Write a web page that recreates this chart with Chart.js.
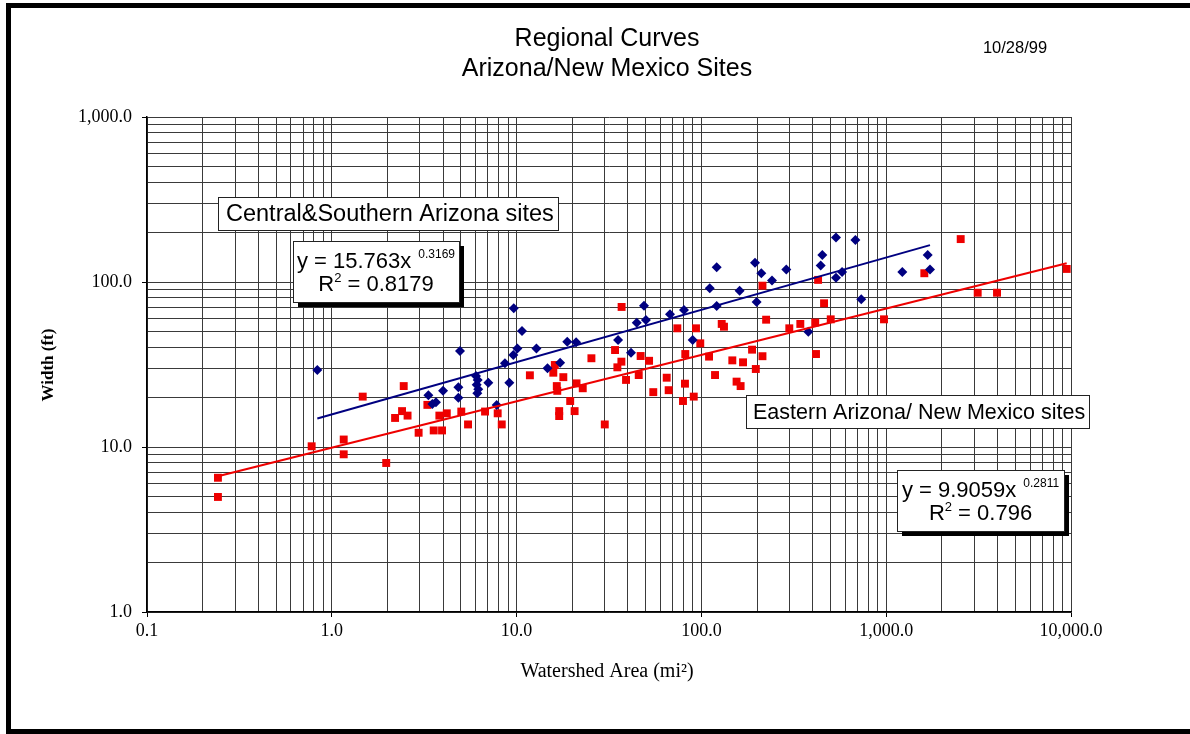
<!DOCTYPE html>
<html>
<head>
<meta charset="utf-8">
<title>Regional Curves</title>
<script src="https://cdn.jsdelivr.net/npm/chart.js@4.4.1/dist/chart.umd.min.js"></script>
<style>
    body { margin: 0; background: #fff; }
    #wrap { width: 1190px; height: 734px; }
</style>
</head>
<body>
<div id="wrap"><canvas id="myChart" width="1190" height="734"></canvas></div>
<script>
// Central & Southern Arizona sites: watershed area (sq mi) vs channel width (ft)
var centralArea = [0.835, 4.94, 3.33, 3.66, 3.5, 4.0, 4.84, 4.84, 6.03, 6.16, 6.08, 6.2, 6.13, 7.03,
    7.8, 8.65, 9.13, 9.6, 10.1, 12.8, 9.65, 10.7, 14.7, 17.2, 18.8, 21.0, 35.4, 41.6, 44.7, 48.9,
    50.1, 67.6, 80.5, 89.7, 111, 121, 121, 161, 195, 211, 199, 241, 288, 379, 451, 442, 535, 535,
    577, 681, 733, 1222, 1677, 1726];
var centralWidth = [29.3, 38.2, 20.6, 18.7, 18.2, 21.9, 23.0, 19.9, 26.9, 25.5, 23.8, 22.4, 21.2, 24.5,
    18.0, 32.2, 24.5, 36.1, 39.6, 39.6, 69.3, 50.5, 30.0, 32.4, 43.5, 43.1, 44.5, 37.3, 56.7, 71.8,
    58.9, 63.7, 67.7, 44.5, 91.6, 71.5, 122.8, 88.6, 131, 113, 75.6, 102, 119, 50.0, 146, 126, 186, 106,
    115, 180, 78.6, 115, 146, 119];

// Eastern Arizona / New Mexico sites
var easternArea = [0.242, 0.242, 0.778, 1.16, 1.16, 1.47, 1.97, 2.45, 2.2, 2.4, 2.57, 2.95, 3.29, 3.56,
    3.95, 3.82, 4.19, 5.02, 5.46, 6.75, 7.9, 8.31, 11.8, 16.1, 15.8, 17.9, 16.5, 16.6, 17.0, 17.0,
    19.5, 20.6, 21.1, 22.8, 25.4, 30.0, 34.1, 36.9, 35.1, 39.1, 37.0, 45.8, 46.9, 52.1, 54.9, 64.9,
    66.5, 74.1, 79.5, 81.5, 81.8, 90.9, 93.5, 98.6, 110, 118.5, 128.8, 132.5, 147, 155, 163, 168,
    188, 197, 214, 214, 224, 299, 343, 413, 417, 428, 461, 501, 973, 1608, 2530, 3127, 3978, 9478];
var easternWidth = [6.51, 4.98, 10.1, 11.1, 9.03, 20.2, 8.0, 23.4, 15.0, 16.5, 15.5, 12.2, 18.0, 12.6,
    12.6, 15.5, 16.0, 16.4, 13.7, 16.4, 16.0, 13.7, 27.2, 31.4, 28.2, 26.5, 23.4, 21.9, 16.5, 15.4,
    19.0, 16.5, 24.3, 22.7, 34.5, 13.7, 38.7, 32.9, 30.4, 25.5, 70.6, 27.3, 35.6, 33.3, 21.5, 26.3,
    22.1, 52.4, 19.0, 24.2, 36.6, 20.2, 52.4, 42.5, 35.3, 27.3, 55.7, 53.6, 33.5, 24.9, 23.4, 32.6,
    38.9, 29.7, 35.5, 95.0, 59.1, 52.4, 55.7, 56.8, 36.6, 103, 74.3, 59.4, 59.4, 113, 182, 86.1, 86.1, 120];

// power trendlines y = a * x^b, with their R squared
var centralFit = [15.763, 0.3169];
var centralR2 = '0.8179';
var easternFit = [9.9059, 0.2811];
var easternR2 = '0.796';

// labelled decades on each axis
var xTicks = [0.1, 1, 10, 100, 1000, 10000];
var yTicks = [1, 10, 100, 1000];

var SANS = '"Liberation Sans", Arial, sans-serif';
var SERIF = '"Liberation Serif", "Times New Roman", serif';
var NAVY = '#000080';
var RED = '#ee0000';

function toPoints(xs, ys) {
    return xs.map(function (x, i) { return { x: x, y: ys[i] }; });
}

// straight segment of the fit across the span of the data
function fitLine(fit, xs) {
    var lo = Math.min.apply(null, xs);
    var hi = Math.max.apply(null, xs);
    return [lo, hi].map(function (x) { return { x: x, y: fit[0] * Math.pow(x, fit[1]) }; });
}

// 1..9 x 10^n between the first and last decade
function gridValues(decades) {
    var vals = [];
    for (var i = 0; i < decades.length - 1; i++) {
        for (var k = 1; k < 10; k++) vals.push(+(decades[i] * k).toPrecision(6));
    }
    vals.push(decades[decades.length - 1]);
    return vals.map(function (v) { return { value: v }; });
}

function isDecade(v) {
    var l = Math.log10(v);
    return Math.abs(l - Math.round(l)) < 1e-9;
}

function tickLabel(value) {
    if (!isDecade(value)) return '';
    return Number(value).toLocaleString('en-US', { minimumFractionDigits: 1, maximumFractionDigits: 1 });
}

function majorTickColor(ctx) {
    return ctx.tick && isDecade(ctx.tick.value) ? '#000' : 'rgba(0,0,0,0)';
}

function box(ctx, x, y, w, h, shadow) {
    if (shadow) {
        ctx.fillStyle = '#000';
        ctx.fillRect(x + 5, y + 5, w, h);
    }
    ctx.fillStyle = '#fff';
    ctx.fillRect(x, y, w, h);
    ctx.strokeStyle = '#222';
    ctx.lineWidth = 1;
    ctx.strokeRect(x + 0.5, y + 0.5, w, h);
}

// "y = a x^b" over "R^2 = r", both lines centred in the box
function equationBox(ctx, x, y, w, h, fit, r2) {
    box(ctx, x, y, w, h, true);
    var cx = x + w / 2;
    var main = '22px ' + SANS;
    var sup = '12px ' + SANS;
    var t1 = 'y = ' + fit[0] + 'x';
    var s1 = String(fit[1]);
    ctx.fillStyle = '#000';
    ctx.textBaseline = 'alphabetic';
    ctx.textAlign = 'left';
    ctx.font = main;
    var w1 = ctx.measureText(t1).width;
    ctx.font = sup;
    var ws1 = ctx.measureText(s1).width;
    var gap = 7;
    var left = cx - (w1 + gap + ws1) / 2;
    ctx.font = main;
    ctx.fillText(t1, left, y + 27);
    ctx.font = sup;
    ctx.fillText(s1, left + w1 + gap, y + 17);

    var r = 'R', rest = ' = ' + r2;
    ctx.font = main;
    var wr = ctx.measureText(r).width;
    var wrest = ctx.measureText(rest).width;
    ctx.font = '13px ' + SANS;
    var w2 = ctx.measureText('2').width;
    left = cx - (wr + w2 + wrest) / 2;
    ctx.font = main;
    ctx.fillText(r, left, y + 50);
    ctx.fillText(rest, left + wr + w2, y + 50);
    ctx.font = '13px ' + SANS;
    ctx.fillText('2', left + wr, y + 41);
}

var decorations = {
    id: 'decorations',
    beforeDraw: function (chart) {
        var ctx = chart.ctx;
        ctx.save();
        ctx.fillStyle = '#fff';
        ctx.fillRect(0, 0, chart.width, chart.height);
        ctx.restore();
    },
    afterDraw: function (chart) {
        var ctx = chart.ctx;
        ctx.save();

        // text boxes naming the two site groups
        box(ctx, 218, 197, 340, 33, false);
        ctx.fillStyle = '#000';
        ctx.font = '23.5px ' + SANS;
        ctx.textAlign = 'left';
        ctx.textBaseline = 'alphabetic';
        ctx.fillText('Central&Southern Arizona sites', 226, 221);

        box(ctx, 746, 395, 343, 33, false);
        ctx.fillStyle = '#000';
        ctx.font = '21.5px ' + SANS;
        ctx.fillText('Eastern Arizona/ New Mexico sites', 753, 419);

        equationBox(ctx, 293, 241, 166, 61, centralFit, centralR2);
        equationBox(ctx, 897, 470, 167, 61, easternFit, easternR2);

        // titles
        ctx.fillStyle = '#000';
        ctx.textAlign = 'center';
        ctx.font = '25px ' + SANS;
        ctx.fillText('Regional Curves', 607, 46);
        ctx.fillText('Arizona/New Mexico Sites', 607, 76);
        ctx.font = '16.5px ' + SANS;
        ctx.fillText('10/28/99', 1015, 53);

        // axis titles
        ctx.font = '20px ' + SERIF;
        ctx.fillText('Watershed Area (mi\u00b2)', 607, 677);
        ctx.save();
        ctx.translate(49, 365);
        ctx.rotate(-Math.PI / 2);
        ctx.font = 'bold 17px ' + SERIF;
        ctx.textBaseline = 'middle';
        ctx.fillText('Width (ft)', 0, 0);
        ctx.restore();

        // page frame
        ctx.fillStyle = '#000';
        ctx.fillRect(6, 3, chart.width - 6, 5);
        ctx.fillRect(6, 3, 5, chart.height - 3);
        ctx.fillRect(6, chart.height - 5, chart.width - 6, 5);
        ctx.restore();
    }
};

var gridColor = '#3a3a3a';

var ctx = document.getElementById('myChart').getContext('2d');
var chart = new Chart(ctx, {
    type: 'scatter',
    data: {
        datasets: [{
            label: 'Central&Southern Arizona fit',
            data: fitLine(centralFit, centralArea),
            showLine: true,
            borderColor: NAVY,
            borderWidth: 2,
            pointRadius: 0
        }, {
            label: 'Eastern Arizona/ New Mexico fit',
            data: fitLine(easternFit, easternArea),
            showLine: true,
            borderColor: RED,
            borderWidth: 2,
            pointRadius: 0
        }, {
            label: 'Central&Southern Arizona sites',
            data: toPoints(centralArea, centralWidth),
            pointStyle: 'rectRot',
            pointRadius: 5,
            pointBorderWidth: 0,
            backgroundColor: NAVY
        }, {
            label: 'Eastern Arizona/ New Mexico sites',
            data: toPoints(easternArea, easternWidth),
            pointStyle: 'rect',
            pointRadius: 5.6,
            pointBorderWidth: 0,
            backgroundColor: RED
        }]
    },
    options: {
        responsive: false,
        animation: false,
        devicePixelRatio: 1,
        layout: { padding: { top: 117, right: 119, bottom: 0, left: 0 } },
        plugins: {
            legend: { display: false },
            tooltip: { enabled: false }
        },
        scales: {
            x: {
                type: 'logarithmic',
                min: 0.1,
                max: 10000,
                afterBuildTicks: function (scale) { scale.ticks = gridValues(xTicks); },
                afterFit: function (scale) {
                    scale.height = 122;
                    scale.paddingLeft = 0;
                    scale.paddingRight = 0;
                },
                grid: { color: gridColor, lineWidth: 1, tickLength: 5, tickColor: majorTickColor },
                border: { color: '#000', width: 1.5 },
                ticks: {
                    autoSkip: false, maxRotation: 0, minRotation: 0, padding: 3, color: '#000',
                    font: { family: SERIF, size: 18 }, callback: tickLabel
                }
            },
            y: {
                type: 'logarithmic',
                min: 1,
                max: 1000,
                afterBuildTicks: function (scale) { scale.ticks = gridValues(yTicks); },
                afterFit: function (scale) {
                    scale.width = 147;
                    scale.paddingTop = 0;
                    scale.paddingBottom = 0;
                },
                grid: { color: gridColor, lineWidth: 1, tickLength: 5, tickColor: majorTickColor },
                border: { color: '#000', width: 1.5 },
                ticks: {
                    autoSkip: false, padding: 10, color: '#000',
                    font: { family: SERIF, size: 18 }, callback: tickLabel
                }
            }
        }
    },
    plugins: [decorations]
});
</script>
</body>
</html>
